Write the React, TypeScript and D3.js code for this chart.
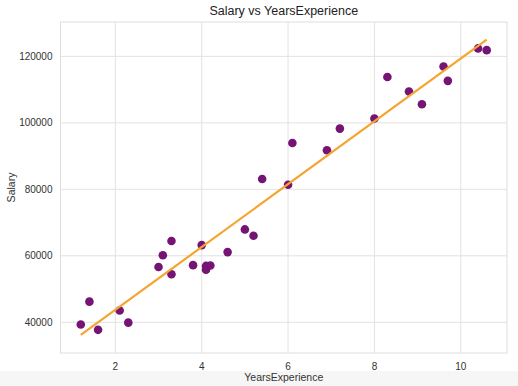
import React from 'react';
import * as d3 from 'd3';

// Salary dataset
const years = [1.2, 1.4, 1.6, 2.1, 2.3, 3.0, 3.1, 3.3, 3.3, 3.8, 4.0, 4.1, 4.1, 4.2, 4.6, 5.0, 5.2, 5.4, 6.0, 6.1, 6.9, 7.2, 8.0, 8.3, 8.8, 9.1, 9.6, 9.7, 10.4, 10.6];
const salary = [39343, 46205, 37731, 43525, 39891, 56642, 60150, 54445, 64445, 57189, 63218, 55794, 56957, 57081, 61111, 67938, 66029, 83088, 81363, 93940, 91738, 98273, 101302, 113812, 109431, 105582, 116969, 112635, 122391, 121872];
const xTicks = [2, 4, 6, 8, 10];
const yTicks = [40000, 60000, 80000, 100000, 120000];

const W = 518;
const H = 386;
const margin = { top: 22, right: 11, bottom: 33, left: 60.5 };

export default function App() {
  const innerW = W - margin.left - margin.right;
  const innerH = H - margin.top - margin.bottom;

  const x = d3.scaleLinear().domain([0.73, 11.07]).range([0, innerW]);
  const y = d3.scaleLinear().domain([30760, 130340]).range([innerH, 0]);

  // least squares fit
  const mx = d3.mean(years) ?? 0;
  const my = d3.mean(salary) ?? 0;
  let num = 0;
  let den = 0;
  years.forEach((v, i) => {
    num += (v - mx) * (salary[i] - my);
    den += (v - mx) * (v - mx);
  });
  const slope = num / den;
  const intercept = my - slope * mx;
  const [x0, x1] = d3.extent(years) as [number, number];
  const fit = [x0, x1].map(v => [v, intercept + slope * v] as [number, number]);
  const line = d3.line<[number, number]>().x(d => x(d[0])).y(d => y(d[1]));

  const font = 'Helvetica, Arial, "Liberation Sans", sans-serif';

  return (
    <svg width={W} height={H} style={{ display: 'block', position: 'absolute', left: 0, top: 0 }} fontFamily={font}>
      <rect width={W} height={H} fill="#fff" />
      <rect x={0} y={371} width={W} height={15} fill="#f6f6f6" />
      <text x={margin.left + innerW / 2} y={15} textAnchor="middle" fontSize={12.5} fill="#222">
        Salary vs YearsExperience
      </text>
      <g transform={`translate(${margin.left},${margin.top})`}>
        {/* grid */}
        {xTicks.map(t => (
          <line key={`gx${t}`} x1={x(t)} x2={x(t)} y1={0} y2={innerH} stroke="#e2e2e2" strokeWidth={1} />
        ))}
        {yTicks.map(t => (
          <line key={`gy${t}`} x1={0} x2={innerW} y1={y(t)} y2={y(t)} stroke="#e2e2e2" strokeWidth={1} />
        ))}
        <rect x={0} y={0} width={innerW} height={innerH} fill="none" stroke="#dedede" strokeWidth={1} />

        {/* tick labels */}
        {xTicks.map(t => (
          <text key={`tx${t}`} x={x(t)} y={innerH + 17} textAnchor="middle" fontSize={10} fill="#333">
            {t}
          </text>
        ))}
        {yTicks.map(t => (
          <text key={`ty${t}`} x={-8} y={y(t)} dy="0.35em" textAnchor="end" fontSize={10} fill="#333">
            {t}
          </text>
        ))}

        {/* points */}
        {years.map((v, i) => (
          <circle key={i} cx={x(v)} cy={y(salary[i])} r={4.3} fill="#751475" />
        ))}

        {/* regression line */}
        <path d={line(fit) ?? ''} fill="none" stroke="#f5a52f" strokeWidth={2.2} />
      </g>
      <text x={margin.left + innerW / 2} y={381} textAnchor="middle" fontSize={10.5} fill="#333">
        YearsExperience
      </text>
      <text transform={`translate(15,${margin.top + innerH / 2}) rotate(-90)`} textAnchor="middle" fontSize={10.5} fill="#333">
        Salary
      </text>
    </svg>
  );
}
